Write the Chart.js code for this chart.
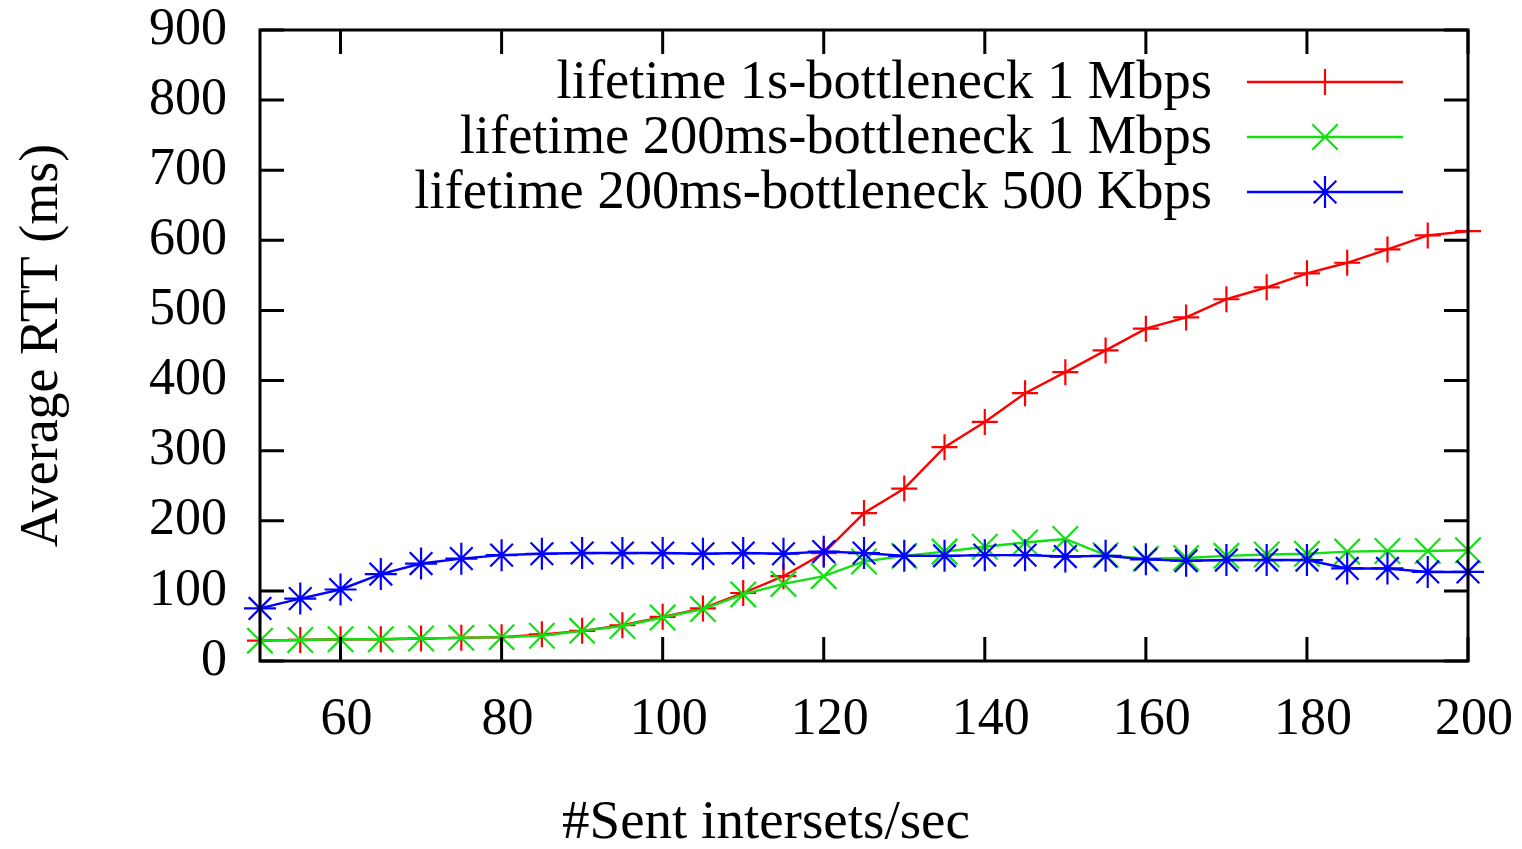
<!DOCTYPE html>
<html lang="en">
<head>
    <meta charset="UTF-8">
    <title>Average RTT</title>
    <style>
        body {
            margin: 0;
            background: #ffffff;
        }
        #wrap {
            width: 1522px;
            height: 849px;
        }
    </style>
</head>
<body>
    <div id="wrap">
        <canvas id="rttChart" width="1522" height="849"></canvas>
    </div>

    <script src="https://cdn.jsdelivr.net/npm/chart.js"></script>
    <script>
        // sent intersets per second
        const rates = [50, 55, 60, 65, 70, 75, 80, 85, 90, 95, 100, 105, 110, 115, 120, 125,
                       130, 135, 140, 145, 150, 155, 160, 165, 170, 175, 180, 185, 190, 195, 200];

        // average RTT (ms) per series
        const rtt1s1M = [29, 30, 31, 31, 32, 33, 34, 38, 43, 51, 63, 75, 97, 121, 154, 211,
                         246, 305, 341, 382, 412, 443, 474, 490, 516, 533, 553, 568, 587, 607, 613];
        const rtt200ms1M = [29, 30, 31, 31, 32, 33, 34, 36, 43, 50, 62, 74, 95, 110, 121, 142,
                            150, 156, 163, 169, 174, 151, 146, 147, 150, 152, 153, 156, 157, 157, 158];
        const rtt200ms500K = [75, 89, 102, 124, 139, 146, 151, 153, 154, 154, 154, 153, 154, 153, 156, 154,
                              150, 150, 151, 151, 149, 150, 145, 143, 144, 144, 144, 132, 132, 127, 127];

        const seriesLabels = [
            'lifetime 1s-bottleneck 1 Mbps',
            'lifetime 200ms-bottleneck 1 Mbps',
            'lifetime 200ms-bottleneck 500 Kbps'
        ];

        const xTicks = [60, 80, 100, 120, 140, 160, 180, 200];
        const yTicks = [0, 100, 200, 300, 400, 500, 600, 700, 800, 900];

        const FONT = '"Liberation Serif", "Times New Roman", serif';

        function toPoints(values) {
            return rates.map((r, i) => ({ x: r, y: values[i] }));
        }

        function makeSet(label, values, color, style, radius, order) {
            return {
                label: label,
                data: toPoints(values),
                borderColor: color,
                backgroundColor: color,
                borderWidth: 2.4,
                pointStyle: style,
                pointRadius: radius,
                pointHoverRadius: radius,
                pointBorderWidth: 2.2,
                pointBorderColor: color,
                tension: 0,
                clip: false,
                order: order
            };
        }

        // keep the label overflow from shrinking the plot area
        function noPadding(scale) {
            scale.paddingTop = 0;
            scale.paddingBottom = 0;
            scale.paddingLeft = 0;
            scale.paddingRight = 0;
        }

        // gnuplot style frame with inward ticks on all four sides
        const framePlugin = {
            id: 'frame',
            afterDraw(chart) {
                const { ctx, chartArea: a, scales } = chart;
                const tick = 24;
                ctx.save();
                ctx.strokeStyle = '#000';
                ctx.lineWidth = 3;
                ctx.beginPath();
                xTicks.forEach(v => {
                    const px = scales.x.getPixelForValue(v);
                    ctx.moveTo(px, a.bottom);
                    ctx.lineTo(px, a.bottom - tick);
                    ctx.moveTo(px, a.top);
                    ctx.lineTo(px, a.top + tick);
                });
                yTicks.forEach(v => {
                    const py = scales.y.getPixelForValue(v);
                    ctx.moveTo(a.left, py);
                    ctx.lineTo(a.left + tick, py);
                    ctx.moveTo(a.right, py);
                    ctx.lineTo(a.right - tick, py);
                });
                ctx.stroke();
                ctx.strokeRect(a.left, a.top, a.right - a.left, a.bottom - a.top);

                // x axis title
                ctx.fillStyle = '#000';
                ctx.font = '55px ' + FONT;
                ctx.textAlign = 'center';
                ctx.textBaseline = 'alphabetic';
                ctx.fillText('#Sent intersets/sec', a.left + 506, a.bottom + 177);

                // key, text right aligned with sample on its right
                ctx.font = '54.5px ' + FONT;
                chart.data.datasets.forEach((ds, i) => {
                    const y = a.top + 52 + i * 55;
                    const textRight = a.right - 256;
                    ctx.textAlign = 'right';
                    ctx.textBaseline = 'middle';
                    ctx.fillStyle = '#000';
                    ctx.fillText(ds.label, textRight, y + 2);

                    const x0 = a.right - 221;
                    const x1 = a.right - 65;
                    ctx.strokeStyle = ds.borderColor;
                    ctx.lineWidth = 2.4;
                    ctx.beginPath();
                    ctx.moveTo(x0, y);
                    ctx.lineTo(x1, y);
                    ctx.stroke();
                    ctx.lineWidth = 2.2;
                    Chart.helpers.drawPoint(ctx, {
                        pointStyle: ds.pointStyle,
                        radius: ds.pointRadius,
                        borderWidth: 2.2
                    }, (x0 + x1) / 2, y);
                });
                ctx.restore();
            }
        };

        const ctx = document.getElementById('rttChart').getContext('2d');
        const rttChart = new Chart(ctx, {
            type: 'line',
            data: {
                datasets: [
                    makeSet(seriesLabels[0], rtt1s1M, '#ff0000', 'cross', 13, 3),
                    makeSet(seriesLabels[1], rtt200ms1M, '#12e012', 'crossRot', 18, 2),
                    makeSet(seriesLabels[2], rtt200ms500K, '#0000ff', 'star', 16, 1)
                ]
            },
            options: {
                responsive: false,
                animation: false,
                events: [],
                layout: {
                    padding: { top: 30, right: 54, left: 0, bottom: 0 }
                },
                plugins: {
                    legend: { display: false },
                    tooltip: { enabled: false }
                },
                scales: {
                    x: {
                        type: 'linear',
                        min: 50,
                        max: 200,
                        grid: { display: false, drawTicks: false },
                        border: { display: false },
                        afterBuildTicks: scale => {
                            scale.ticks = xTicks.map(v => ({ value: v }));
                        },
                        afterFit: scale => {
                            scale.height = 188;
                            noPadding(scale);
                        },
                        ticks: {
                            color: '#000',
                            padding: 28,
                            labelOffset: 6,
                            maxRotation: 0,
                            autoSkip: false,
                            font: { family: FONT, size: 52 }
                        }
                    },
                    y: {
                        type: 'linear',
                        min: 0,
                        max: 900,
                        grid: { display: false, drawTicks: false },
                        border: { display: false },
                        afterBuildTicks: scale => {
                            scale.ticks = yTicks.map(v => ({ value: v }));
                        },
                        afterFit: scale => {
                            scale.width = 260;
                            noPadding(scale);
                        },
                        ticks: {
                            color: '#000',
                            padding: 33,
                            autoSkip: false,
                            font: { family: FONT, size: 52 }
                        },
                        title: {
                            display: true,
                            text: 'Average RTT (ms)',
                            color: '#000',
                            padding: { top: 10, bottom: 0 },
                            font: { family: FONT, size: 54, lineHeight: 1.2 }
                        }
                    }
                }
            },
            plugins: [framePlugin]
        });
    </script>
</body>
</html>
